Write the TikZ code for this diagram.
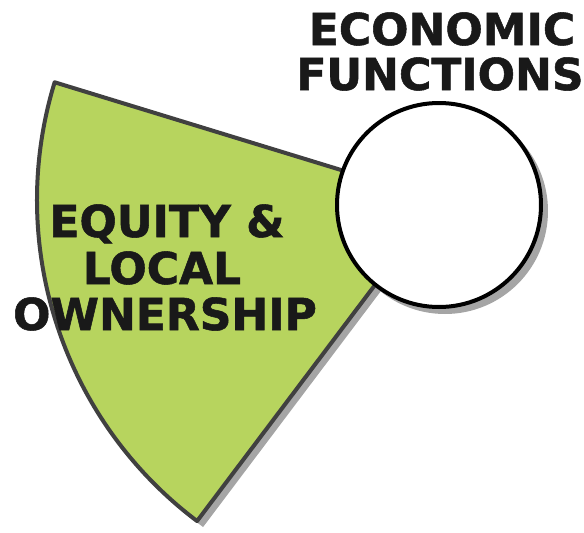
\documentclass[tikz,border=0pt]{standalone}
\usepackage{fontspec}
\setmainfont{DejaVu Sans}[BoldFeatures={FakeBold=1.2}]
\usetikzlibrary{calc}
\definecolor{wedgegreen}{RGB}{183,212,94}
\definecolor{edgegray}{RGB}{64,64,64}
\definecolor{shadowgray}{RGB}{165,165,165}
\definecolor{inkblack}{RGB}{25,25,25}
\begin{document}
\begin{tikzpicture}[x=1pt,y=-1pt,
  bigtext/.style={font=\bfseries\fontsize{44}{46}\selectfont, text=inkblack, inner sep=0pt, anchor=base},
  wedgestyle/.style={fill=wedgegreen, draw=edgegray, line width=4pt, line join=round},
  ringstyle/.style={fill=white, draw=black, line width=4pt}]
\useasboundingbox (0,0) rectangle (584,533);
\coordinate (sc) at (439,200);
\coordinate (scs) at (445,206);
\coordinate (cc) at (439,205);
% sector shadow
\fill[shadowgray] (scs) -- ++(197.03:402) arc[start angle=197.03, end angle=127, radius=402] -- cycle;
% sector
\draw[wedgestyle] (sc) -- ++(197.03:402) arc[start angle=197.03, end angle=127, radius=402] -- cycle;
% circle shadow
\fill[shadowgray] ($(cc)+(6,6)$) circle[radius=103];
% circle
\node[ringstyle, circle, minimum size=204pt, inner sep=0pt] (ring) at (cc) {};
% texts
\node[bigtext] (ec1) at (442,45) {ECONOMIC};
\node[bigtext] (ec2) at (440,90) {FUNCTIONS};
\node[bigtext] (eq1) at (167,237) {EQUITY \&};
\node[bigtext] (eq2) at (162,284) {LOCAL};
\node[bigtext] (eq3) at (165,330) {OWNERSHIP};
\end{tikzpicture}
\end{document}
